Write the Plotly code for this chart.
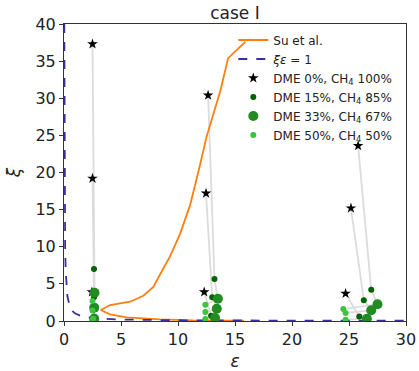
import plotly.graph_objects as go

# Su et al. stability boundary (eps, xi)
su_eps = [15.8, 11.3, 8.4, 5.5, 4.04, 3.22, 4.04, 5.8, 6.96, 7.84, 8.4, 9.3, 10.2, 11.06, 11.9, 12.5, 13.7, 14.4, 15.9]
su_xi = [0.06, 0.09, 0.22, 0.49, 0.9, 1.48, 2.15, 2.6, 3.4, 4.6, 6.2, 8.7, 11.8, 15.6, 20.8, 24.8, 30.9, 35.4, 37.6]

# xi*eps = 1 curve (read points)
hyp_eps = [0.025, 0.03, 0.04, 0.05, 0.07, 0.1, 0.15, 0.2, 0.3, 0.5, 0.75, 1.0, 1.5, 2.0, 3.0, 5.0, 10.0, 20.0, 30.0]
hyp_xi = [40.0, 33.3, 25.0, 20.0, 14.3, 10.0, 6.67, 5.0, 3.33, 2.0, 1.33, 1.0, 0.667, 0.5, 0.333, 0.2, 0.1, 0.05, 0.033]

# DME 0%, CH4 100%
d0_eps = [2.5, 2.5, 2.45, 12.64, 12.46, 12.3, 25.8, 25.17, 24.7]
d0_xi = [37.3, 19.2, 3.9, 30.4, 17.2, 3.9, 23.6, 15.2, 3.7]
# DME 15%, CH4 85%
d15_eps = [2.63, 2.63, 2.63, 13.2, 13.0, 12.9, 26.95, 26.3, 25.9]
d15_xi = [7.0, 3.2, 0.6, 5.66, 3.2, 0.7, 4.2, 2.8, 0.6]
# DME 33%, CH4 67%
d33_eps = [2.68, 2.65, 2.65, 13.5, 13.4, 13.25, 27.5, 26.95, 26.57]
d33_xi = [3.8, 1.8, 0.3, 3.0, 1.66, 0.4, 2.25, 1.44, 0.3]
# DME 50%, CH4 50%
d50_eps = [2.5, 2.5, 2.55, 12.4, 12.4, 12.4, 24.5, 24.7, 24.7]
d50_xi = [2.7, 1.4, 0.3, 2.2, 1.2, 0.27, 1.6, 1.08, 0.18]

series = [
    (d0_eps, d0_xi), (d15_eps, d15_xi), (d33_eps, d33_xi), (d50_eps, d50_xi)
]

gx, gy = [], []
for i in range(len(d0_eps)):
    for ex, xy in series:
        gx.append(ex[i]); gy.append(xy[i])
    gx.append(None); gy.append(None)

fig = go.Figure()
fig.add_trace(go.Scatter(x=gx, y=gy, mode="lines", line=dict(color="#dcdcdc", width=1.8),
                         showlegend=False, hoverinfo="skip"))
fig.add_trace(go.Scatter(x=su_eps, y=su_xi, mode="lines", name="Su et al.",
                         line=dict(color="#ff7f0e", width=1.8)))
fig.add_trace(go.Scatter(x=hyp_eps, y=hyp_xi, mode="lines", name="<i>ξε</i> = 1",
                         line=dict(color="#3b2fa0", width=1.8, dash="dash")))
fig.add_trace(go.Scatter(x=d0_eps, y=d0_xi, mode="markers", name="DME 0%, CH<sub>4</sub> 100%",
                         marker=dict(symbol="star", color="black", size=8)))
fig.add_trace(go.Scatter(x=d15_eps, y=d15_xi, mode="markers", name="DME 15%, CH<sub>4</sub> 85%",
                         marker=dict(color="#006400", size=6)))
fig.add_trace(go.Scatter(x=d33_eps, y=d33_xi, mode="markers", name="DME 33%, CH<sub>4</sub> 67%",
                         marker=dict(color="#228b22", size=10)))
fig.add_trace(go.Scatter(x=d50_eps, y=d50_xi, mode="markers", name="DME 50%, CH<sub>4</sub> 50%",
                         marker=dict(color="#3cc43c", size=6)))

axis_common = dict(showline=True, linecolor="#333", linewidth=1, mirror=True, automargin=False,
                   ticks="outside", ticklen=4, tickcolor="#333", showgrid=False, zeroline=False,
                   tickfont=dict(family="DejaVu Sans", size=16, color="#222"))
fig.update_layout(
    width=419, height=371,
    margin=dict(l=64, r=13, t=24, b=50),
    plot_bgcolor="white", paper_bgcolor="white",
    font=dict(family="DejaVu Sans", color="#222"),
    title=dict(text="case I", x=0.5, xref="paper", xanchor="center", y=1 - 13 / 371, yref="container",
               yanchor="middle", font=dict(size=17, family="DejaVu Sans")),
    xaxis=dict(range=[0, 30], tickvals=[0, 5, 10, 15, 20, 25, 30],
               title=dict(text="<i>ε</i>", font=dict(size=17), standoff=8), **axis_common),
    yaxis=dict(range=[0, 40], tickvals=[0, 5, 10, 15, 20, 25, 30, 35, 40],
               title=dict(text="<i>ξ</i>", font=dict(size=17), standoff=10), **axis_common),
    legend=dict(x=0.495, y=0.995, xanchor="left", yanchor="top", bgcolor="rgba(255,255,255,0)",
                font=dict(size=12, family="DejaVu Sans"), itemwidth=30, tracegroupgap=0),
)
fig.write_html("out.html")
